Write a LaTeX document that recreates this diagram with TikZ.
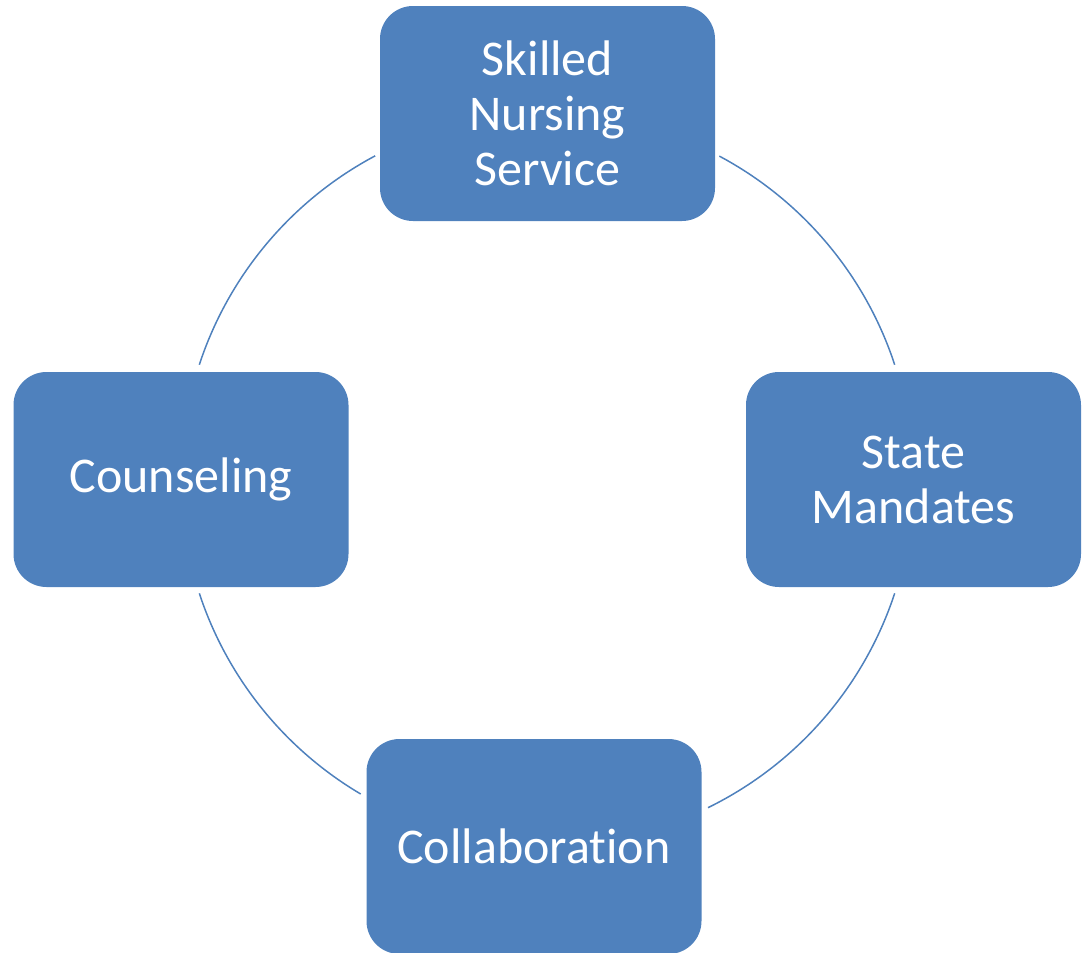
\documentclass[tikz,border=0pt]{standalone}
\usepackage{fontspec}
\setmainfont{Carlito}[Ligatures=NoCommon]
\definecolor{boxblue}{HTML}{4F81BD}
\begin{document}
\begin{tikzpicture}[x=1pt,y=1pt,
  cyclebox/.style={fill=boxblue, text=white, rounded corners=33pt,
    minimum width=335pt, minimum height=215pt, inner sep=0pt, align=center,
    font=\fontsize{50}{55}\selectfont},
  ring/.style={draw=boxblue, line width=1.5pt}]
\useasboundingbox (0,0) rectangle (1088,-953);
\coordinate (c) at (547,-479);
\node[cyclebox] (top) at (547.5,-113.5) {Skilled\\Nursing\\Service};
\node[cyclebox] (right) at (913.5,-479.5) {State\\Mandates};
\node[cyclebox] (left) at (181,-479.5) {Counseling};
\node[cyclebox] (bottom) at (534,-846.5) {Collaboration};
\draw[ring] ([shift={(118:366)}]c) arc[start angle=118, end angle=161.8, radius=366];
\draw[ring] ([shift={(198.2:366)}]c) arc[start angle=198.2, end angle=239.4, radius=366];
\draw[ring] ([shift={(296.1:366)}]c) arc[start angle=296.1, end angle=341.8, radius=366];
\draw[ring] ([shift={(18.2:366)}]c) arc[start angle=18.2, end angle=61.9, radius=366];
\end{tikzpicture}
\end{document}
